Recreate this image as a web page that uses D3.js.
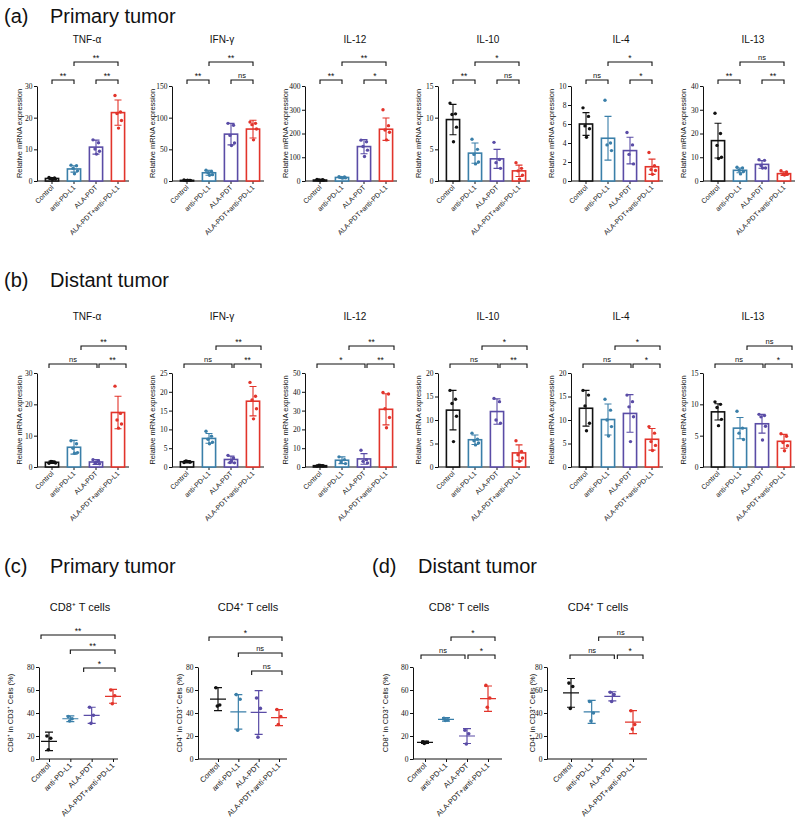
<!DOCTYPE html>
<html><head><meta charset="utf-8">
<script src="https://cdn.jsdelivr.net/npm/d3@7"></script>
<style>
body{margin:0;background:#fff}
svg{display:block}
text{font-family:"Liberation Sans",Arial,sans-serif;fill:#111}
.tick text{font-family:"Liberation Serif","Times New Roman",serif;font-size:7.5px;fill:#111}
</style>
</head><body>
<svg id="c" width="800" height="825"></svg>
<script>
// ---------------- DATA ----------------
const groups = ["Control","anti-PD-L1","ALA-PDT","ALA-PDT+anti-PD-L1"];
const cytokines = ["TNF-α","IFN-γ","IL-12","IL-10","IL-4","IL-13"];

// (a) Primary tumor, relative mRNA expression
const primYMax = [30,150,400,15,10,40];
const primYTicks = [[0,10,20,30],[0,50,100,150],[0,100,200,300,400],[0,5,10,15],[0,2,4,6,8,10],[0,10,20,30,40]];
const primMean = [[0.8,3.8,10.7,21.6],[1,13,74,82],[4,15,145,218],[9.7,4.4,3.5,1.6],[6,4.5,3.2,1.5],[17,4.5,7,3.1]];
const primSD = [[0.3,1,2.2,4],[0.5,4,17,14],[3,3,30,47],[2.4,1.6,1.5,0.9],[1.2,2.3,1.4,0.8],[7.3,1,1.6,0.8]];
const primPoints = [
  [[1.1,1,0.8,0.6,0.5],[5,4.8,4,3.2,2.3],[13,12.1,10.1,9.4,8.5],[27,21.8,21.3,19.1,16.7]],
  [[1.5,1,0.6,1,1.2],[17,15,13,10,9],[91,88,72,60,56],[93,91,89,82,65]],
  [[7,5,4,3,2],[18,17,15,13,12],[172,165,145,130,103],[300,233,215,205,173]],
  [[12.3,10.6,10.5,8.5,6.2],[6.6,5,4.2,3,2.7],[6.1,3.4,2.9,2],[2.9,2,1.6,0.9,0.3]],
  [[7.7,6.8,5.8,5.5,4.6],[8.5,4,3.8,3.2],[5.1,3.8,2.8,1.8],[3,1.6,1.2,1.1,0.7]],
  [[28.5,20,15,10,9.5],[5.8,5.5,4.5,4,3],[9,8.7,6.5,5.5,5.5],[4.3,3.8,3,2.8,2.5]]
];
const primSig = [["**","**","**"],["**","ns","**"],["**","*","**"],["**","ns","*"],["ns","*","*"],["**","**","ns"]];

// (b) Distant tumor, relative mRNA expression
const distYMax = [30,25,50,20,20,15];
const distYTicks = [[0,10,20,30],[0,5,10,15,20,25],[0,10,20,30,40,50],[0,5,10,15,20],[0,5,10,15,20],[0,5,10,15]];
const distMean = [[1.5,6.3,1.6,17.4],[1.4,7.6,2,17.5],[0.7,3.6,4.3,30.7],[12.1,5.8,11.8,3],[12.5,10.1,11.4,5.9],[8.8,6.2,6.9,4.1]];
const distSD = [[0.4,2.2,0.8,5.2],[0.3,1.3,0.9,3.9],[0.3,1.8,2.8,8.3],[4.2,1,2.7,1.7],[3.8,3.3,4,2.3],[1.3,1.7,1.5,1.1]];
const distPoints = [
  [[1.2,1.5,1.8,1.3,1.7],[8.4,7.4,6,4.6,4.4],[2.3,2,1.3,1,1.5],[25.8,17.1,15,13.7,12.4]],
  [[1.2,1.4,1.6,1.3,1.5],[9.5,8.2,7.4,6.6,6.2],[3.1,2.4,1.2,1.1,1.6],[22.5,18.8,17.8,15.5,12.8]],
  [[0.5,0.7,0.9,0.6,0.8],[5.4,3.9,2.7,1.8],[8.9,3.9,3,2.1],[39.6,38.8,31,26.3,20.9]],
  [[16.3,14.4,13.5,10.8,5.4],[7.2,5.9,5.6,5.1,4.7],[14.6,13.9,10,9.3],[5.6,3.3,2.6,1.9,1.2]],
  [[16.3,15.3,13,9.3,7.7],[14.4,12.1,10,8.6,6.6],[15.3,13.9,12.8,10.7,5.4],[8.6,7.2,5.4,4.6,3.5]],
  [[10.4,10,9.5,7.6,6.6],[8.9,6.2,5.4,4.4],[8.4,8.2,8,6.5,4.3],[5.3,4.9,3.9,3.4,2.6]]
];
const distSig = [["ns","**","**"],["ns","**","**"],["*","**","**"],["ns","**","*"],["ns","*","*"],["ns","*","ns"]];

// (c)/(d) flow cytometry, % of CD3+ cells
const cellTitles = ["CD8⁺ T cells","CD4⁺ T cells"];
const cellYLabels = ["CD8⁺ in CD3⁺ Cells (%)","CD4⁺ in CD3⁺ Cells (%)"];
const flowYMax = 80;
const flowTicks = [0,20,40,60,80];
const primCellMean = [[15.3,35,38,54.5],[52,41,40.5,36]];
const primCellSD = [[8,2.5,7,6],[10,15,19,7]];
const primCellPoints = [[[20,18,8],[37,35,33],[45,38,31],[60,55,48]],[[62,47,46],[56,52,25],[53,44,19],[43,37,30]]];
const primCellSig = [["**","**","*"],["*","ns","ns"]];
const distCellMean = [[14.5,34.5,20,52.5],[57.5,41,54.5,32]];
const distCellSD = [[1,1.5,6.5,11],[12.5,10,4,10]];
const distCellPoints = [[[15,14.5,13.5],[35.5,34,33.5],[25,22,13],[64,53,45]],[[66,63,44],[50,40,33],[58,56,50],[42,30,26]]];
const distCellSig = [["ns","*","*"],["ns","*","ns"]];

// ---------------- STYLE / LAYOUT ----------------
const colors = ["#111111","#3a7fa9","#5a4ca6","#e2342b"];
const jitter = [-3,2.5,-1,3.5,0.5];
const panelX = [37,172,305,438,571,703];
const rowA = {sub:43, bU:62, bL:80, yTop:86, yBot:181};
const rowB = {sub:320, bU:346, bL:364, yTop:373, yBot:467};
// bracket specs: [fromGroup, dx, toGroup, dx, level(0=lower,1=upper)]
const bracketsA = [[0,0,1,0,0],[2,0,3,0,0],[1,0,3,0,1]];
const bracketsB = [[0,-3,2,1,0],[2,3,3,8,0],[1,7,3,8,1]];

const svg = d3.select("#c");

function header(x, y, tag, label){
  svg.append("text").attr("x",x).attr("y",y).attr("font-size",20).text(tag);
  svg.append("text").attr("x",x+46).attr("y",y).attr("font-size",20).text(label);
}
header(4,23,"(a)","Primary tumor");
header(4,287,"(b)","Distant tumor");
header(4,573,"(c)","Primary tumor");
header(372,573,"(d)","Distant tumor");

function bracket(g, x1, x2, y, label){
  g.append("path").attr("d",`M${x1},${y+4}V${y}H${x2}V${y+4}`)
    .attr("fill","none").attr("stroke","#111").attr("stroke-width",1.1);
  g.append("text").attr("x",(x1+x2)/2).attr("y",label==="ns"?y-2.5:y-1).attr("text-anchor","middle")
    .attr("font-size",label==="ns"?7.5:8.5).text(label);
}

function xLabels(g, x, yBot, fs){
  groups.forEach(d=>{
    g.append("text").attr("text-anchor","end").attr("font-size",fs)
      .attr("transform",`translate(${x(d)+2},${yBot+7}) rotate(-45)`).text(d);
  });
}

function barPanel(x0, R, title, yMax, ticks, mean, sd, pts, sig, brk, ylabOff){
  const g = svg.append("g");
  const x = d3.scaleBand().domain(groups).range([x0+4,x0+92]).paddingInner(0.4).paddingOuter(0.2);
  const y = d3.scaleLinear().domain([0,yMax]).range([R.yBot,R.yTop]);
  const cx = d => x(d)+x.bandwidth()/2;
  g.append("text").attr("x",x0+50).attr("y",R.sub).attr("text-anchor","middle").attr("font-size",10).text(title);
  const ya = g.append("g").attr("transform",`translate(${x0},0)`)
    .call(d3.axisLeft(y).tickValues(ticks).tickSize(3).tickSizeOuter(0).tickPadding(1.5));
  ya.selectAll("path,line").attr("stroke","#111").attr("stroke-width",1);
  g.append("text").attr("transform",`translate(${x0+ylabOff},${(R.yTop+R.yBot)/2}) rotate(-90)`)
    .attr("text-anchor","middle").attr("font-size",7.5).text("Relative mRNA expression");
  const xa = g.append("g").attr("transform",`translate(0,${R.yBot})`)
    .call(d3.axisBottom(x).tickSize(3).tickSizeOuter(0).tickFormat(""));
  xa.select(".domain").attr("d",`M${x0},0H${x0+92}`);
  xa.selectAll("path,line").attr("stroke","#111").attr("stroke-width",1);
  xLabels(g, cx, R.yBot, 7);
  groups.forEach((gr,i)=>{
    const c = colors[i];
    g.append("rect").attr("x",x(gr)).attr("y",y(mean[i])).attr("width",x.bandwidth())
      .attr("height",R.yBot-y(mean[i])).attr("fill","#fff").attr("stroke",c).attr("stroke-width",1.6);
    const hi = y(mean[i]+sd[i]), lo = y(Math.max(0,mean[i]-sd[i]));
    g.append("path").attr("d",`M${cx(gr)},${hi}V${lo}M${cx(gr)-3.5},${hi}H${cx(gr)+3.5}M${cx(gr)-3.5},${lo}H${cx(gr)+3.5}`)
      .attr("stroke",c).attr("stroke-width",1.1).attr("fill","none");
    pts[i].forEach((v,j)=>{
      g.append("circle").attr("cx",cx(gr)+jitter[j]).attr("cy",y(v)).attr("r",1.7).attr("fill",c);
    });
  });
  brk.forEach((b,k)=>{
    const yy = b[4] ? R.bU : R.bL;
    bracket(g, cx(groups[b[0]])+b[1], cx(groups[b[2]])+b[3], yy, sig[k]);
  });
}

cytokines.forEach((t,i)=>{
  barPanel(panelX[i], rowA, t, primYMax[i], primYTicks[i], primMean[i], primSD[i], primPoints[i], primSig[i], bracketsA, i===0?-15:-17);
  barPanel(panelX[i], rowB, t, distYMax[i], distYTicks[i], distMean[i], distSD[i], distPoints[i], distSig[i], bracketsB, i===0?-15:-17);
});

const flowRow = {sub:611, yTop:667, yBot:759};
const scatterLayout = [
  {x0:39, first:49, last:113, end:118, ylab:-26, sub:80, lv:[635,650,668],
   br:[[0,-8,3,2,0],[1,0,3,2,1],[2,-8,3,2,2]]},
  {x0:198, first:218, last:279, end:287, ylab:-16, sub:248, lv:[637,653,671],
   br:[[0,-9,3,3,0],[1,0,3,3,1],[2,-7,3,3,2]]},
  {x0:413, first:425, last:488, end:502, ylab:-25, sub:459, lv:[655,637],
   br:[[0,-4,2,-2,0],[2,1,3,7,0],[1,5,3,7,1]]},
  {x0:547, first:571, last:633, end:647, ylab:-12, sub:598, lv:[655,637],
   br:[[0,-1,2,2,0],[2,5,3,10,0],[1,7,3,10,1]]}
];

function scatterPanel(L, k, mean, sd, pts, sig){
  const g = svg.append("g");
  const x = d3.scalePoint().domain(groups).range([L.first,L.last]);
  const y = d3.scaleLinear().domain([0,flowYMax]).range([flowRow.yBot,flowRow.yTop]);
  g.append("text").attr("x",L.sub).attr("y",flowRow.sub).attr("text-anchor","middle").attr("font-size",11).text(cellTitles[k]);
  const ya = g.append("g").attr("transform",`translate(${L.x0},0)`)
    .call(d3.axisLeft(y).tickValues(flowTicks).tickSize(3).tickSizeOuter(0).tickPadding(1.5));
  ya.selectAll("path,line").attr("stroke","#111");
  g.append("text").attr("transform",`translate(${L.x0+L.ylab},${(flowRow.yTop+flowRow.yBot)/2}) rotate(-90)`)
    .attr("text-anchor","middle").attr("font-size",7.5).text(cellYLabels[k]);
  const xa = g.append("g").attr("transform",`translate(0,${flowRow.yBot})`)
    .call(d3.axisBottom(x).tickSize(3).tickSizeOuter(0).tickFormat(""));
  xa.select(".domain").attr("d",`M${L.x0},0H${L.end}`);
  xa.selectAll("path,line").attr("stroke","#111");
  xLabels(g, x, flowRow.yBot, 7.5);
  groups.forEach((gr,i)=>{
    const c = colors[i], cx = x(gr);
    const hi = y(mean[i]+sd[i]), lo = y(mean[i]-sd[i]), m = y(mean[i]);
    g.append("path").attr("d",`M${cx},${hi}V${lo}M${cx-4},${hi}H${cx+4}M${cx-4},${lo}H${cx+4}M${cx-8},${m}H${cx+8}`)
      .attr("stroke",c).attr("stroke-width",1.2).attr("fill","none");
    pts[i].forEach((v,j)=>{
      g.append("circle").attr("cx",cx+jitter[j]*0.7).attr("cy",y(v)).attr("r",1.8).attr("fill",c);
    });
  });
  L.br.forEach((b,j)=>{
    bracket(g, x(groups[b[0]])+b[1], x(groups[b[2]])+b[3], L.lv[b[4]], sig[j]);
  });
}
scatterPanel(scatterLayout[0],0,primCellMean[0],primCellSD[0],primCellPoints[0],primCellSig[0]);
scatterPanel(scatterLayout[1],1,primCellMean[1],primCellSD[1],primCellPoints[1],primCellSig[1]);
scatterPanel(scatterLayout[2],0,distCellMean[0],distCellSD[0],distCellPoints[0],distCellSig[0]);
scatterPanel(scatterLayout[3],1,distCellMean[1],distCellSD[1],distCellPoints[1],distCellSig[1]);
</script>
</body></html>
